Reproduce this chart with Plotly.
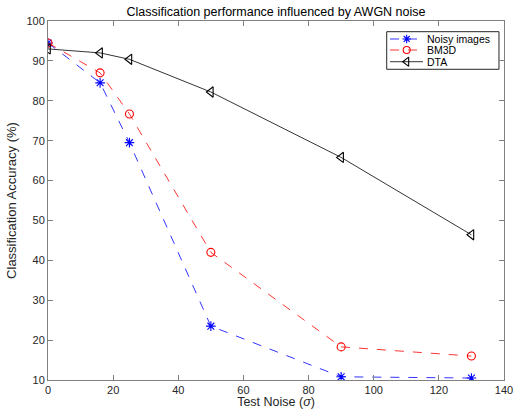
import plotly.graph_objects as go

noise_levels = [0, 16, 25, 50, 90, 130]
noisy_acc = [94.5, 84.5, 69.5, 23.5, 10.8, 10.5]
bm3d_acc = [94.5, 87.0, 76.7, 42.0, 18.3, 16.0]
dta_acc = [93.0, 92.0, 90.4, 82.2, 65.8, 46.4]
x_ticks = [0, 20, 40, 60, 80, 100, 120, 140]
y_ticks = [10, 20, 30, 40, 50, 60, 70, 80, 90, 100]
series_names = ["Noisy images", "BM3D", "DTA"]

font_family = "Liberation Sans, Arial, Helvetica, sans-serif"
colors = ["#0000ff", "#ff0000", "#000000"]
symbols = ["asterisk-open", "circle-open", "triangle-left-open"]
dashes = ["dash", "dash", "solid"]
msizes = [8, 8, 9]

fig = go.Figure()
for name, vals, c, s, d, ms in zip(series_names, [noisy_acc, bm3d_acc, dta_acc], colors, symbols, dashes, msizes):
    fig.add_trace(go.Scatter(
        x=noise_levels, y=vals, name=name, mode="lines+markers", showlegend=False,
        line=dict(color=c, width=0.8, dash=d),
        marker=dict(symbol=s, size=ms, color=c, line=dict(color=c, width=1.1)),
    ))

# custom legend (MATLAB-like compact box)
leg_x0, leg_x1, leg_y0, leg_y1 = 0.7428, 0.989, 0.8655, 0.9702
row_y = [0.9499, 0.9192, 0.8866]
line_x0, line_x1, mark_x, text_x = 0.75, 0.8224, 0.7866, 0.8318
leg_msizes = [7, 7, 8]

fig.add_shape(type="rect", xref="paper", yref="paper", x0=leg_x0, x1=leg_x1, y0=leg_y0, y1=leg_y1,
              line=dict(color="#262626", width=1), fillcolor="white", layer="below")
for i, (name, c, s, d, ms) in enumerate(zip(series_names, colors, symbols, dashes, leg_msizes)):
    fig.add_shape(type="line", xref="paper", yref="paper", x0=line_x0, x1=line_x1, y0=row_y[i], y1=row_y[i],
                  line=dict(color=c, width=0.8, dash=d), layer="above")
    fig.add_annotation(x=text_x, y=row_y[i], xref="paper", yref="paper", text=name, showarrow=False,
                       xanchor="left", yanchor="middle", xshift=-2, font=dict(size=10.5, color="#000000"))
    fig.add_trace(go.Scatter(
        x=[mark_x], y=[row_y[i]], xaxis="x2", yaxis="y2", mode="markers", showlegend=False,
        hoverinfo="skip",
        marker=dict(symbol=s, size=ms, color=c, line=dict(color=c, width=1.1)),
    ))

axis_common = dict(
    showgrid=False, zeroline=False, showline=True, linecolor="#808080", linewidth=1,
    mirror="ticks", ticks="inside", ticklen=5, tickcolor="#808080", automargin=False,
    tickfont=dict(size=11, color="#262626", family=font_family),
)

fig.update_layout(
    width=514, height=409,
    margin=dict(l=48, r=10, t=21, b=29, autoexpand=False),
    paper_bgcolor="white", plot_bgcolor="white",
    font=dict(family=font_family, size=11, color="#262626"),
    title=dict(text="Classification performance influenced by AWGN noise",
               x=(48 + 504) / 2 / 514, xanchor="center", y=1 - 11.5 / 409, yanchor="middle",
               font=dict(size=12.5, color="#000000")),
    xaxis=dict(range=[0, 140], tickvals=x_ticks,
               title=dict(text="Test Noise (<i>σ</i>)", font=dict(size=12.5, color="#262626"), standoff=4),
               **axis_common),
    yaxis=dict(range=[10, 100], tickvals=y_ticks,
               title=dict(text="Classification Accuracy (%)", font=dict(size=13, color="#262626"), standoff=6),
               **axis_common),
    xaxis2=dict(overlaying="x", range=[0, 1], visible=False, fixedrange=True),
    yaxis2=dict(overlaying="y", range=[0, 1], visible=False, fixedrange=True),
    showlegend=False,
)

page_fix = (
    "var h=document.documentElement,b=document.body;"
    "h.style.margin='0';h.style.padding='0';h.style.overflow='hidden';"
    "b.style.margin='0';b.style.padding='0';b.style.overflow='hidden';"
)

fig.write_html("out.html", config={"displayModeBar": False}, post_script=page_fix)
